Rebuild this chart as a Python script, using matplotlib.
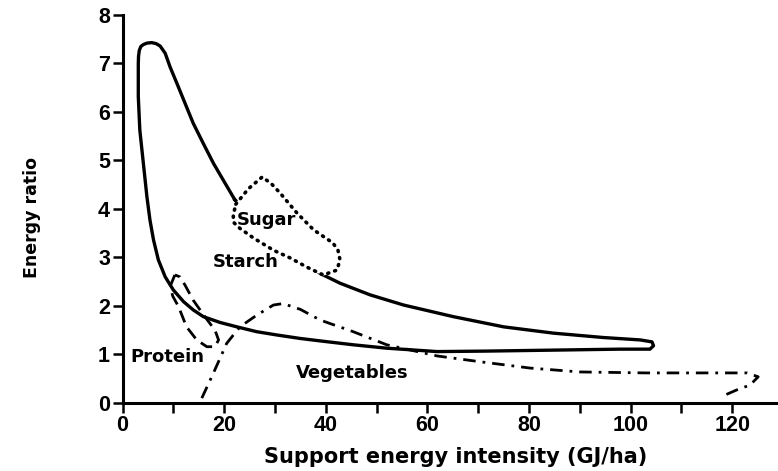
import numpy as np
from matplotlib import pyplot as plt

# Outlines (x: GJ/ha, y: energy ratio)
starch_x = [22.1, 19.8, 17.9, 15.9, 13.9, 12.3, 10.7, 9.35, 8.4, 7.4, 6.6, 5.75, 4.8, 4.1,
            3.6, 3.3, 3.15, 3.1, 3.1, 3.4, 4.1, 4.8, 5.4, 6.1, 7.05, 8.4, 10.0, 12.0, 13.9,
            15.9, 19.2, 22.5, 26.4, 30.5, 35.0, 38.9, 45.4, 52.0, 61.9, 71.7, 84.8, 97.9,
            103.8, 104.5, 104.2, 101.9, 94.6, 84.8, 75.0, 65.1, 55.3, 48.7, 42.8, 38.9,
            30.0, 22.1]
starch_y = [4.19, 4.60, 4.94, 5.35, 5.77, 6.18, 6.59, 6.93, 7.21, 7.36, 7.41, 7.43, 7.42, 7.39,
            7.35, 7.27, 7.15, 7.00, 6.32, 5.63, 4.94, 4.25, 3.77, 3.36, 2.95, 2.60, 2.33, 2.09,
            1.92, 1.78, 1.66, 1.57, 1.47, 1.40, 1.33, 1.28, 1.20, 1.13, 1.06, 1.07, 1.09, 1.11,
            1.11, 1.18, 1.26, 1.30, 1.35, 1.44, 1.57, 1.78, 2.02, 2.23, 2.47, 2.67, 3.40, 4.19]

sugar_x = [22.3, 24.8, 27.5, 29.3, 31.0, 34.3, 37.6, 41.4, 42.4, 42.8, 42.2, 39.5, 36.3,
           33.0, 29.7, 25.8, 23.1, 21.8, 21.8, 22.3]
sugar_y = [4.10, 4.42, 4.66, 4.52, 4.33, 3.92, 3.57, 3.30, 3.15, 2.95, 2.74, 2.64, 2.80,
           2.99, 3.15, 3.40, 3.60, 3.73, 3.88, 4.10]

protein_x = [10.3, 9.35, 9.9, 11.0, 12.6, 14.6, 16.6, 18.2, 18.9, 18.2, 16.2, 13.9, 12.3,
             11.3, 10.3]
protein_y = [2.64, 2.40, 2.20, 1.99, 1.57, 1.30, 1.16, 1.16, 1.30, 1.50, 1.78, 2.12, 2.43,
             2.60, 2.64]

veg_x = [15.6, 17.9, 20.5, 23.1, 26.4, 29.7, 31.6, 35.0, 38.9, 45.4, 52.0, 61.9, 70.4,
         80.2, 90.0, 103.0, 116.3, 122.9, 125.1, 123.5, 120.9, 117.6]
veg_y = [0.10, 0.62, 1.23, 1.57, 1.81, 2.02, 2.05, 1.93, 1.71, 1.47, 1.20, 0.97, 0.85,
         0.72, 0.64, 0.62, 0.62, 0.62, 0.54, 0.37, 0.27, 0.12]

labels = ["Sugar", "Starch", "Protein", "Vegetables"]
label_x = [28.4, 24.3, 8.8, 45.2]
label_y = [3.77, 2.91, 0.95, 0.62]

plt.rcParams['font.family'] = ['Liberation Sans', 'DejaVu Sans']

fig = plt.figure(figsize=(7.78, 4.71), dpi=100)
ax = fig.add_axes([0.1575, 0.1444, 0.8425, 0.8238])

ax.plot(starch_x, starch_y, color='black', lw=2.4, solid_joinstyle='round', zorder=2)
ax.fill(sugar_x, sugar_y, color='white', zorder=3)
ax.plot(sugar_x, sugar_y, color='black', lw=2.6, linestyle=(0, (0.3, 1.7)),
        dash_capstyle='round', zorder=4)
ax.plot(protein_x, protein_y, color='black', lw=2.0, linestyle=(0, (4.5, 2.5)), zorder=4)
ax.plot(veg_x, veg_y, color='black', lw=2.0, linestyle=(0, (4.5, 2.5, 1, 2.5)), zorder=4)

for t, x, y in zip(labels, label_x, label_y):
    ax.text(x, y, t, ha='center', va='center', fontsize=13, family='DejaVu Sans',
            fontweight='bold', zorder=5)

ax.set_xlim(0, 129)
ax.set_ylim(0, 8)
ax.set_xticks(np.arange(0, 121, 20))
ax.set_xticks(np.arange(10, 120, 20), minor=True)
ax.set_yticks(np.arange(0, 9, 1))

for side in ['top', 'right']:
    ax.spines[side].set_visible(False)
ax.spines['left'].set_linewidth(2.2)
ax.spines['bottom'].set_linewidth(2.2)
ax.spines['left'].set_bounds(0, 8)

ax.tick_params(which='both', direction='out', length=7, width=1.8, labelsize=15.5)
ax.tick_params(axis='x', pad=2)
ax.tick_params(axis='y', pad=2)
for lab in ax.get_xticklabels() + ax.get_yticklabels():
    lab.set_fontweight('bold')

fig.text(456 / 778, 1 - 457 / 471, 'Support energy intensity (GJ/ha)', ha='center',
         va='center', fontsize=15, family='DejaVu Sans', fontweight='bold')
fig.text(32 / 778, 1 - 217 / 471, 'Energy ratio', ha='center', va='center', rotation=90,
         fontsize=12.5, family='DejaVu Sans', fontweight='bold')

fig.savefig('out.png', dpi=100)
